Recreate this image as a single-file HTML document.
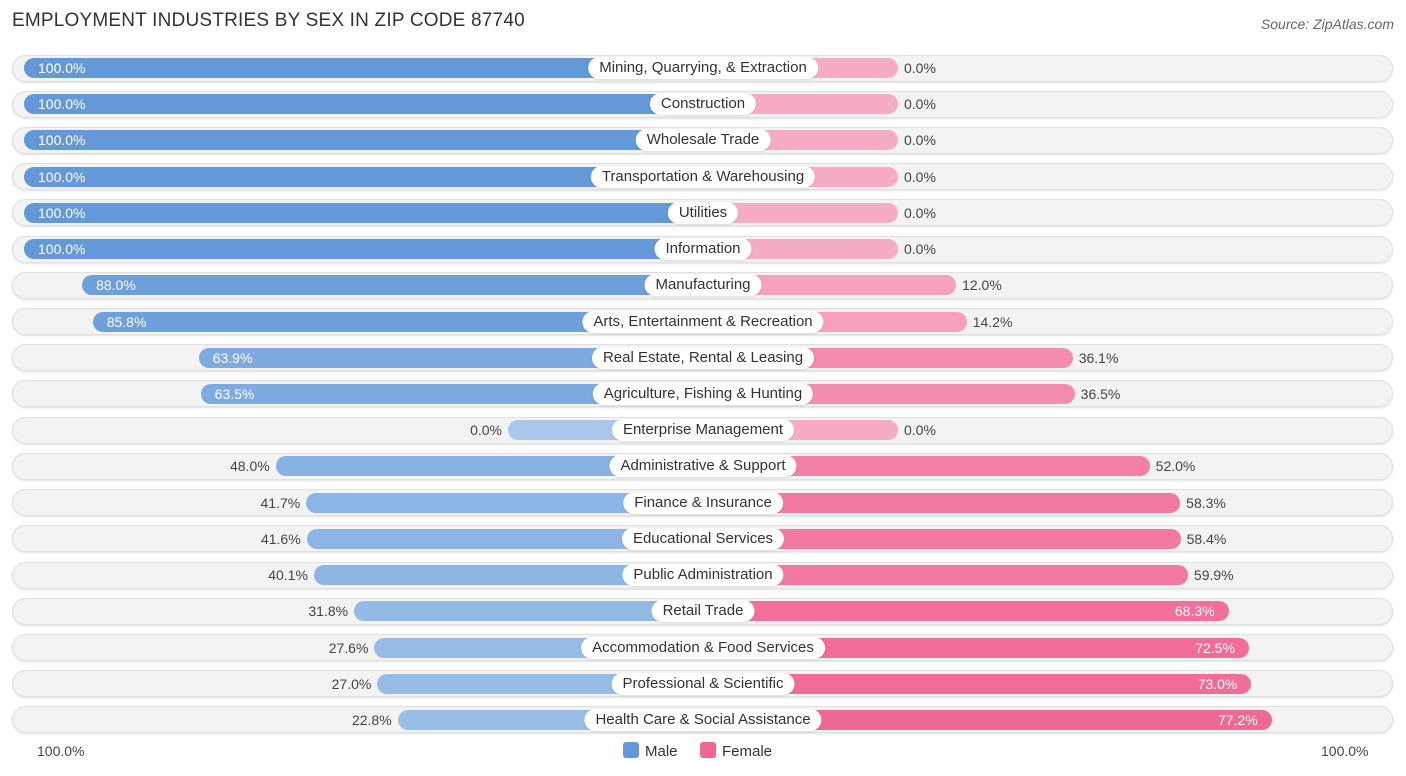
<!DOCTYPE html>
<html><head><meta charset="utf-8">
<style>
body{margin:0;background:#fff;font-family:"Liberation Sans",sans-serif;}
#wrap{position:relative;width:1406px;height:776px;overflow:hidden;}
.title{position:absolute;left:12px;top:10px;font-size:19px;color:#333;letter-spacing:0.2px}
.src{position:absolute;right:12px;top:16px;font-size:14px;color:#666;font-style:italic}
.row{position:absolute;left:12px;width:1381px;height:27px;border-radius:14px;background:#f3f3f3;box-shadow:inset 0 0 0 1px #e0e0e0, 0 1px 2px rgba(0,0,0,.12)}
.bar{position:absolute;height:20px;border-radius:10px}
.lbl{position:absolute;height:22px;line-height:22px;padding:0 11px;background:#fff;border-radius:11px;font-size:15px;color:#333;transform:translateX(-50%);white-space:nowrap;box-shadow:0 1px 2px rgba(0,0,0,.1)}
.val{position:absolute;font-size:14px;line-height:20px}
.axl{position:absolute;top:743px;font-size:14px;color:#444}
.leg{position:absolute;top:742px;font-size:15px;color:#333}
.sw{display:inline-block;width:16px;height:16px;border-radius:3px;vertical-align:-2px;margin-right:6px}
</style></head><body>
<div id="wrap">
<div class="title">EMPLOYMENT INDUSTRIES BY SEX IN ZIP CODE 87740</div>
<div class="src">Source: ZipAtlas.com</div>
<div id="rows"></div>
<div class="axl" style="left:37px">100.0%</div>
<div class="axl" style="left:1321px">100.0%</div>
<div class="leg" style="left:623px"><span class="sw" style="background:#6399d9"></span>Male</div>
<div class="leg" style="left:700px"><span class="sw" style="background:#f06892"></span>Female</div>
</div>
<script>
const categories=["Mining, Quarrying, & Extraction","Construction","Wholesale Trade","Transportation & Warehousing","Utilities","Information","Manufacturing","Arts, Entertainment & Recreation","Real Estate, Rental & Leasing","Agriculture, Fishing & Hunting","Enterprise Management","Administrative & Support","Finance & Insurance","Educational Services","Public Administration","Retail Trade","Accommodation & Food Services","Professional & Scientific","Health Care & Social Assistance"];
const maleValues=[100,100,100,100,100,100,88.0,85.8,63.9,63.5,0,48.0,41.7,41.6,40.1,31.8,27.6,27.0,22.8];
const femaleValues=[0,0,0,0,0,0,12.0,14.2,36.1,36.5,0,52.0,58.3,58.4,59.9,68.3,72.5,73.0,77.2];
const root=document.getElementById('rows');
const cx=703, m0=508, f0=898, k=4.84, y0=68, dy=36.22;
function mix(a,b,t){return 'rgb('+a.map((v,i)=>Math.round(v+(b[i]-v)*t)).join(',')+')';}
categories.forEach((c,i)=>{
  const yc=y0+i*dy;
  const row=document.createElement('div');row.className='row';
  
  
  row.style.top=(yc-13.5)+'px';root.appendChild(row);
  const mv=maleValues[i], fv=femaleValues[i];
  const ml=m0-k*mv;
  const mb=document.createElement('div');mb.className='bar';
  
  
  mb.style.left=ml+'px';mb.style.width=(cx-ml)+'px';mb.style.top=(yc-10)+'px';
  mb.style.background=mix([170,200,236],[99,153,217],mv/100);root.appendChild(mb);
  const fr=f0+k*fv;
  const fb=document.createElement('div');fb.className='bar';
  
  
  fb.style.left=cx+'px';fb.style.width=(fr-cx)+'px';fb.style.top=(yc-10)+'px';
  fb.style.background=mix([247,172,197],[240,102,146],fv/80);root.appendChild(fb);
  const lb=document.createElement('div');lb.className='lbl';
  
  
  lb.textContent=c;lb.style.left=cx+'px';lb.style.top=(yc-11)+'px';root.appendChild(lb);
  const mvl=document.createElement('div');mvl.className='val';
  
  
  mvl.textContent=mv.toFixed(1)+'%';mvl.style.top=(yc-10)+'px';
  if(mv>=60){mvl.style.left=(ml+14)+'px';mvl.style.color='#fff';}
  else{mvl.style.right=(1406-ml+6)+'px';mvl.style.color='#444';}
  root.appendChild(mvl);
  const fvl=document.createElement('div');fvl.className='val';
  
  
  fvl.textContent=fv.toFixed(1)+'%';fvl.style.top=(yc-10)+'px';
  if(fv>=65){fvl.style.right=(1406-fr+14)+'px';fvl.style.color='#fff';}
  else{fvl.style.left=(fr+6)+'px';fvl.style.color='#444';}
  root.appendChild(fvl);
});
</script>
</body></html>
